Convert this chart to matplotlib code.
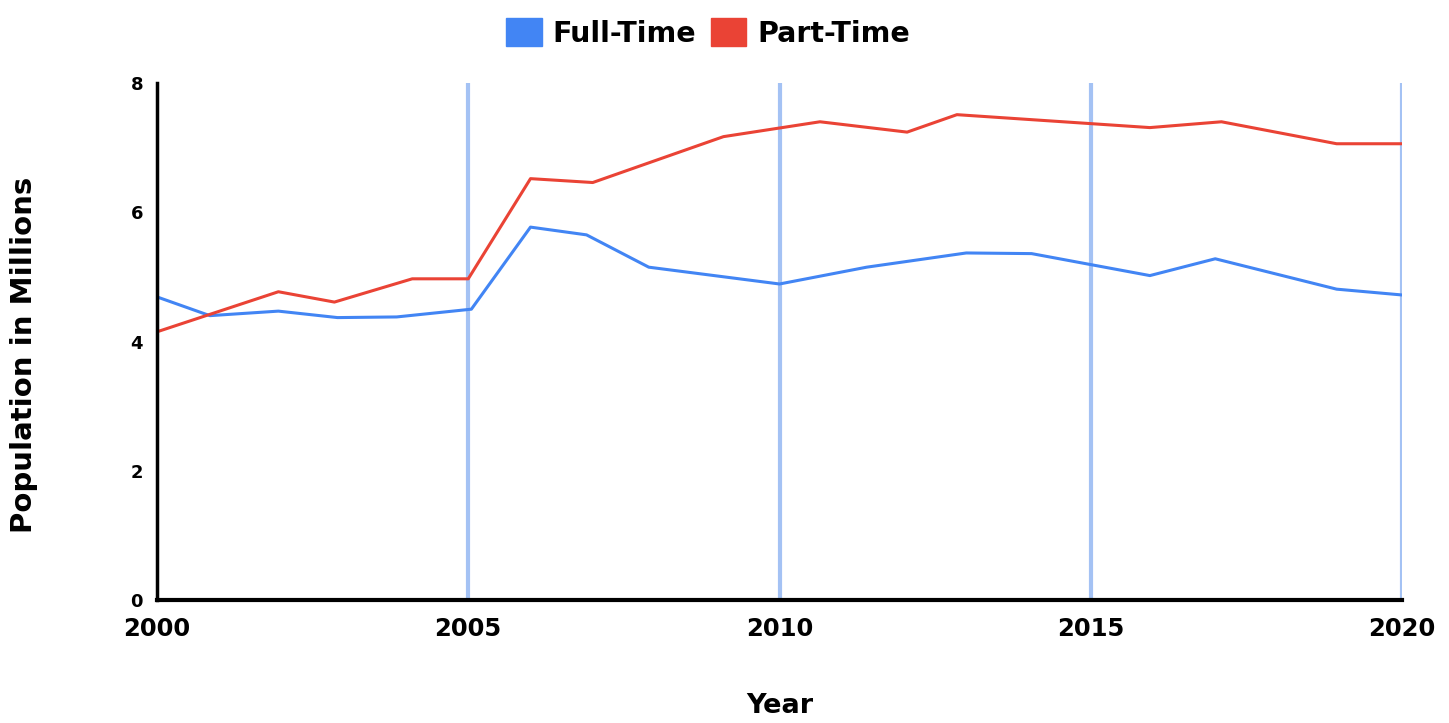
import matplotlib.pyplot as plt
from matplotlib.patches import Patch

plt.rcParams['font.family'] = ['DejaVu Sans']

# full-time workers (millions)
ft_years = [2000, 2000.85, 2001.95, 2002.9, 2003.85, 2005.05, 2006.0, 2006.9,
            2007.9, 2010.0, 2011.4, 2013.0, 2014.05, 2015.95, 2017.0, 2018.95, 2020]
ft_vals = [4.69, 4.40, 4.47, 4.37, 4.38, 4.50, 5.77, 5.65,
           5.15, 4.89, 5.15, 5.37, 5.36, 5.02, 5.28, 4.81, 4.72]

# part-time workers (millions)
pt_years = [2000, 2001.95, 2002.85, 2004.1, 2005.0, 2006.0, 2007.0, 2009.1,
            2010.65, 2012.05, 2012.85, 2015.95, 2017.1, 2018.95, 2020]
pt_vals = [4.15, 4.77, 4.61, 4.97, 4.97, 6.52, 6.46, 7.17,
           7.40, 7.24, 7.51, 7.31, 7.40, 7.06, 7.06]

blue = '#4285F4'
red = '#EA4335'
grid_col = '#A4C2F4'

fig = plt.figure(figsize=(14.49, 7.23), dpi=100)
ax = fig.add_axes([157 / 1449, 1 - 600 / 723, 1245 / 1449, 517 / 723])

for yr in [2005, 2010, 2015, 2020]:
    ax.axvline(yr, color=grid_col, lw=3, zorder=1)

ax.plot(ft_years, ft_vals, color=blue, lw=2.2, zorder=3)
ax.plot(pt_years, pt_vals, color=red, lw=2.2, zorder=3)

ax.set_xlim(2000, 2020)
ax.set_ylim(0, 8)
ax.set_xticks([2000, 2005, 2010, 2015, 2020])
ax.set_yticks([0, 2, 4, 6, 8])
ax.tick_params(axis='x', length=0, labelsize=17.5, pad=12)
ax.tick_params(axis='y', length=0, labelsize=13, pad=10)
for lbl in ax.get_xticklabels() + ax.get_yticklabels():
    lbl.set_fontweight('bold')

for s in ['top', 'right']:
    ax.spines[s].set_visible(False)
ax.spines['left'].set_linewidth(2.5)
ax.spines['bottom'].set_linewidth(3)
ax.spines['left'].set_zorder(4)
ax.spines['bottom'].set_zorder(4)

ax.set_xlabel('Year', fontsize=19.5, fontweight='bold')
ax.xaxis.set_label_coords(0.5, -0.18)
ax.set_ylabel('Population in Millions', fontsize=21, fontweight='bold')
ax.yaxis.set_label_coords(-0.0956, 0.474)

handles = [Patch(color=blue, label='Full-Time'), Patch(color=red, label='Part-Time')]
fig.legend(handles=handles, loc='center', bbox_to_anchor=(708 / 1449, 1 - 33 / 723),
           ncol=2, frameon=False, prop={'weight': 'bold', 'size': 20.5},
           handlelength=1.26, handleheight=1.1, handletextpad=0.38,
           columnspacing=0.5, borderpad=0)

fig.savefig('out.png', dpi=100)
